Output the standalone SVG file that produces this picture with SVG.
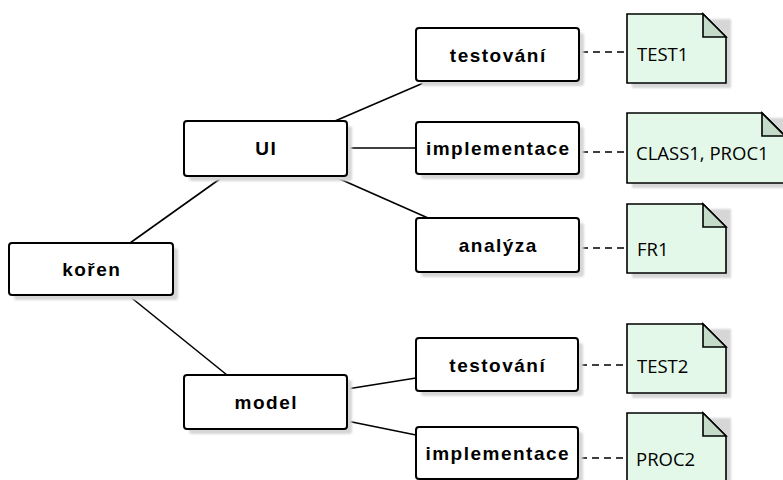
<svg xmlns="http://www.w3.org/2000/svg" width="783" height="480" viewBox="0 0 783 480">
  <defs>
    <filter id="soft" x="-10%" y="-10%" width="120%" height="130%">
      <feGaussianBlur stdDeviation="1"/>
    </filter>
  </defs>
  <style>
    .shadow { fill: #d6d6d6; filter: url(#soft); }
    .box { fill: #ffffff; stroke: #000000; stroke-width: 2; }
    .label { font-family: "Liberation Sans", Arial, sans-serif; font-size: 19px; font-weight: bold; letter-spacing: 1.5px; text-anchor: middle; fill: #000000; }
    .note { fill: #e3f8e8; stroke: #000000; stroke-width: 1.6; stroke-linejoin: miter; }
    .fold { fill: #c5dbca; stroke: #000000; stroke-width: 1.6; }
    .notetext { font-family: "Open Sans", "Segoe UI", sans-serif; font-size: 18.5px; fill: #000000; }
    .edge { stroke: #000000; stroke-width: 1.6; fill: none; }
    .dash { stroke: #000000; stroke-width: 1.6; fill: none; stroke-dasharray: 7 5; }
  </style>

  <!-- tree edges and note anchors -->
  <g id="connectors">
    <line class="edge" x1="130" y1="243" x2="224" y2="176"/>
    <line class="edge" x1="128" y1="295" x2="227" y2="375"/>
    <line class="edge" x1="335" y1="121" x2="428" y2="81"/>
    <line class="edge" x1="347" y1="148" x2="416" y2="148"/>
    <line class="edge" x1="333" y1="176" x2="428" y2="218"/>
    <line class="edge" x1="347" y1="389" x2="416" y2="378"/>
    <line class="edge" x1="347" y1="421" x2="416" y2="435"/>
    <line class="dash" x1="581" y1="52" x2="627" y2="52"/>
    <line class="dash" x1="581" y1="152" x2="627" y2="152"/>
    <line class="dash" x1="581" y1="248" x2="627" y2="248"/>
    <line class="dash" x1="580" y1="365" x2="627" y2="365"/>
    <line class="dash" x1="580" y1="458" x2="627" y2="458"/>
  </g>

  <g id="koren">
    <rect class="shadow" x="14" y="248" width="164" height="52" rx="3"/>
    <rect class="box" x="9" y="243" width="164" height="52" rx="3"/>
    <text class="label" x="91.8" y="276">kořen</text>
  </g>

  <g id="ui">
    <rect class="shadow" x="189" y="126" width="163" height="55" rx="3"/>
    <rect class="box" x="184" y="121" width="163" height="55" rx="3"/>
    <text class="label" x="266.3" y="155">UI</text>
  </g>

  <g id="model">
    <rect class="shadow" x="189" y="380" width="163" height="54" rx="3"/>
    <rect class="box" x="184" y="375" width="163" height="54" rx="3"/>
    <text class="label" x="266.3" y="409">model</text>
  </g>

  <g id="ui-testovani">
    <rect class="shadow" x="421" y="33" width="163" height="53" rx="3"/>
    <rect class="box" x="416" y="28" width="163" height="53" rx="3"/>
    <text class="label" x="498.3" y="62">testování</text>
  </g>

  <g id="ui-implementace">
    <rect class="shadow" x="421" y="127" width="163" height="52" rx="3"/>
    <rect class="box" x="416" y="122" width="163" height="52" rx="3"/>
    <text class="label" x="498.3" y="155">implementace</text>
  </g>

  <g id="ui-analyza">
    <rect class="shadow" x="421" y="223" width="163" height="54" rx="3"/>
    <rect class="box" x="416" y="218" width="163" height="54" rx="3"/>
    <text class="label" x="498.3" y="252">analýza</text>
  </g>

  <g id="model-testovani">
    <rect class="shadow" x="421" y="343" width="162" height="53" rx="3"/>
    <rect class="box" x="416" y="338" width="162" height="53" rx="3"/>
    <text class="label" x="497.8" y="372">testování</text>
  </g>

  <g id="model-implementace">
    <rect class="shadow" x="421" y="432" width="162" height="52" rx="3"/>
    <rect class="box" x="416" y="427" width="162" height="52" rx="3"/>
    <text class="label" x="497.8" y="460">implementace</text>
  </g>

  <g id="note-test1">
    <rect class="shadow" x="632" y="19" width="99" height="69"/>
    <path class="note" d="M627,14 H703 L726,37 V83 H627 Z"/>
    <path class="fold" d="M703,14 V37 H726 Z"/>
    <text class="notetext" x="637" y="61">TEST1</text>
  </g>

  <g id="note-class1">
    <rect class="shadow" x="632" y="118" width="160" height="70"/>
    <path class="note" d="M627,113 H762 L785,136 V183 H627 Z"/>
    <path class="fold" d="M762,113 V136 H785 Z"/>
    <text class="notetext" x="636" y="160">CLASS1, PROC1</text>
  </g>

  <g id="note-fr1">
    <rect class="shadow" x="632" y="209" width="99" height="69"/>
    <path class="note" d="M627,204 H703 L726,227 V273 H627 Z"/>
    <path class="fold" d="M703,204 V227 H726 Z"/>
    <text class="notetext" x="637" y="256">FR1</text>
  </g>

  <g id="note-test2">
    <rect class="shadow" x="632" y="329" width="99" height="69"/>
    <path class="note" d="M627,324 H703 L726,347 V393 H627 Z"/>
    <path class="fold" d="M703,324 V347 H726 Z"/>
    <text class="notetext" x="637" y="373">TEST2</text>
  </g>

  <g id="note-proc2">
    <rect class="shadow" x="632" y="418" width="99" height="69"/>
    <path class="note" d="M627,413 H703 L726,436 V482 H627 Z"/>
    <path class="fold" d="M703,413 V436 H726 Z"/>
    <text class="notetext" x="636" y="466">PROC2</text>
  </g>
</svg>
